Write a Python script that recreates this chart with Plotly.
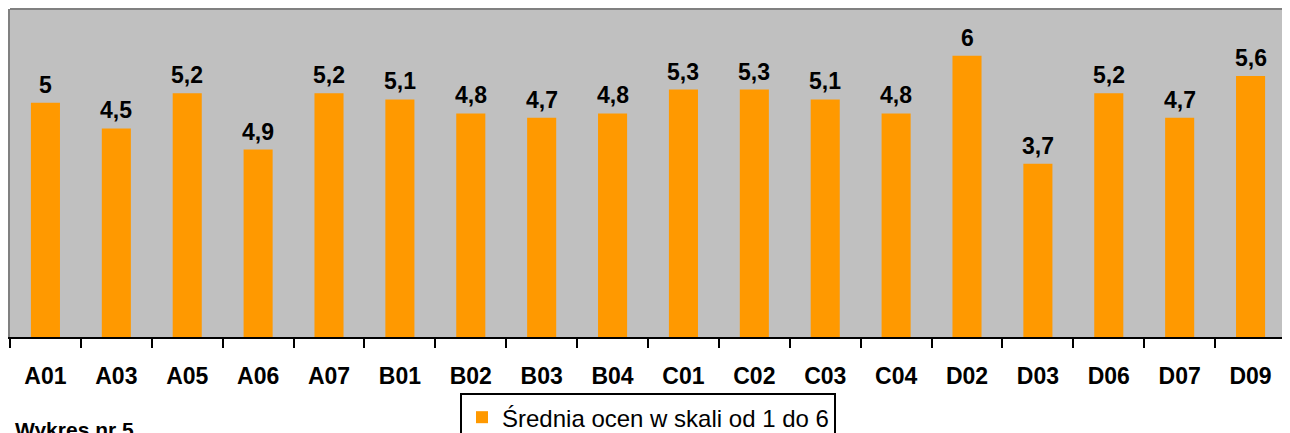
import plotly.graph_objects as go

categories = ["A01", "A03", "A05", "A06", "A07", "B01", "B02", "B03", "B04",
              "C01", "C02", "C03", "C04", "D02", "D03", "D06", "D07", "D09"]
bar_values = [5.0, 4.45, 5.2, 4.0, 5.2, 5.07, 4.77, 4.68, 4.77,
              5.28, 5.28, 5.07, 4.77, 6.0, 3.7, 5.2, 4.68, 5.57]
value_labels = ["5", "4,5", "5,2", "4,9", "5,2", "5,1", "4,8", "4,7", "4,8",
                "5,3", "5,3", "5,1", "4,8", "6", "3,7", "5,2", "4,7", "5,6"]
series_name = "Średnia ocen w skali od 1 do 6"
footer_text = "Wykres nr 5"

FONT = "Liberation Sans, Arial, sans-serif"
ORANGE = "#FF9900"

fig = go.Figure()
fig.add_trace(go.Bar(
    x=categories, y=bar_values, name=series_name,
    marker=dict(color=ORANGE, line=dict(width=0)),
    showlegend=False,
))
# legend entry with a larger square swatch
fig.add_trace(go.Scatter(
    x=[None], y=[None], mode="markers", name=series_name,
    marker=dict(symbol="square", size=17, color=ORANGE),
    showlegend=True,
))

for c, v, t in zip(categories, bar_values, value_labels):
    fig.add_annotation(x=c, y=v, text=f"<b>{t}</b>", showarrow=False,
                       yanchor="bottom", yshift=3,
                       font=dict(family=FONT, size=23, color="black"))

n = len(categories)
boundaries = [i - 0.5 for i in range(n + 1)]

fig.add_annotation(xref="paper", yref="paper", x=0.002, y=-0.240,
                   xanchor="left", yanchor="top", showarrow=False,
                   text=f"<b>{footer_text}</b>",
                   font=dict(family=FONT, size=21, color="black"))

# top border of plot area
fig.add_shape(type="line", xref="paper", yref="paper", x0=0, x1=1, y0=1, y1=1,
              line=dict(color="#808080", width=2), layer="above")

fig.update_layout(
    width=1282, height=425,
    margin=dict(l=2, r=4, t=1, b=96, autoexpand=False),
    paper_bgcolor="white",
    plot_bgcolor="#C0C0C0",
    bargap=0.59,
    font=dict(family=FONT, color="black"),
    xaxis=dict(
        type="category", categoryorder="array", categoryarray=categories,
        range=[-0.5, n - 0.5],
        tickson="boundaries", ticks="outside", ticklen=9, tickwidth=2,
        tickcolor="black",
        showline=True, linecolor="black", linewidth=2,
        showgrid=False, zeroline=False,
        tickfont=dict(family=FONT, size=23, color="black", weight="bold"),
        ticklabelstandoff=17,
    ),
    xaxis2=dict(
        overlaying="x", anchor="y", range=[-0.5, n - 0.5],
        tickmode="array", tickvals=boundaries, ticks="inside", ticklen=8,
        tickwidth=2, tickcolor="black", showticklabels=False,
        showline=False, showgrid=False, zeroline=False,
    ),
    yaxis=dict(
        range=[0, 7], showticklabels=False, ticks="", showgrid=False,
        zeroline=False, showline=True, linecolor="#808080", linewidth=2,
        mirror=True,
    ),
    legend=dict(
        orientation="h", x=0.5, xanchor="center", y=-0.171, yanchor="top",
        bgcolor="white", bordercolor="black", borderwidth=2,
        font=dict(family=FONT, size=24, color="black"),
        itemsizing="constant", itemwidth=30,
    ),
)

fig.write_html("out.html")
